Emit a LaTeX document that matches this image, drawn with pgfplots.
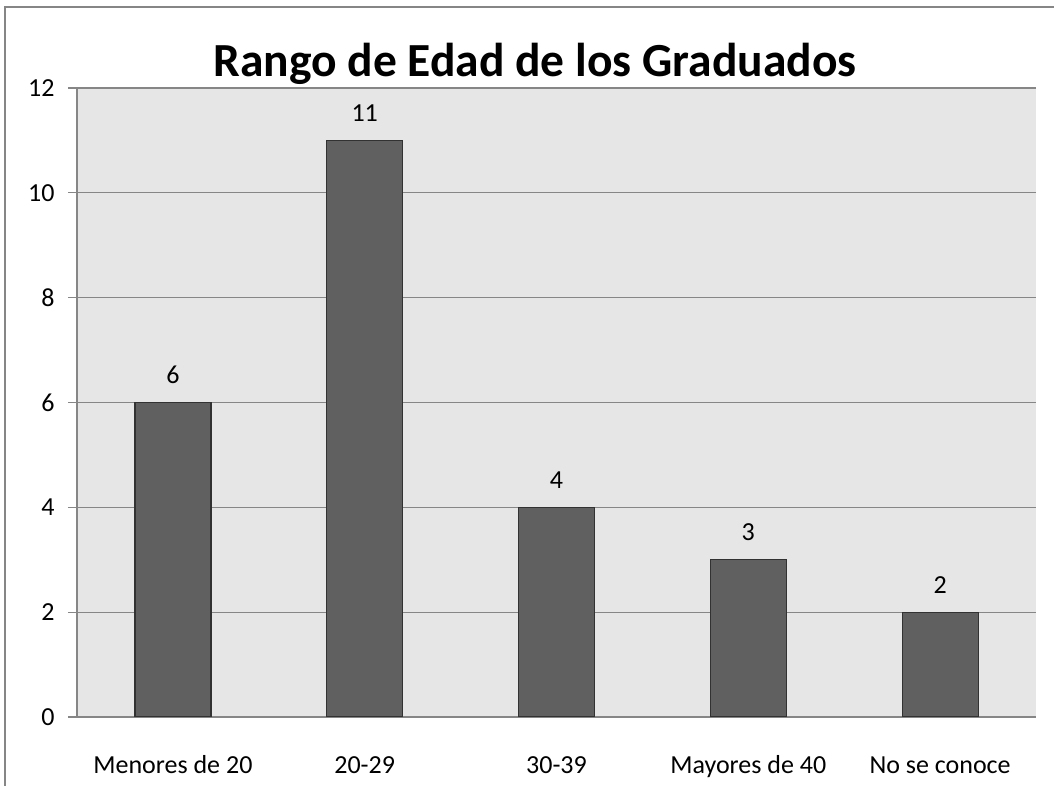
\documentclass[border=0pt]{standalone}
\usepackage{fontspec}
\setmainfont{Carlito}
\usepackage{pgfplots}
\pgfplotsset{compat=1.18}
\definecolor{bgc}{RGB}{230,230,230}
\definecolor{barc}{RGB}{96,96,96}
\definecolor{barl}{RGB}{50,50,50}
\definecolor{gridc}{RGB}{134,134,134}
\begin{document}
\begin{tikzpicture}[x=1pt,y=1pt]
\useasboundingbox (0,0) rectangle (1054,786);
\begin{scope}
\clip (0,0) rectangle (1054,786);
\draw[color=gridc, line width=1.5pt] (5,779) rectangle (1070,-20);
\end{scope}
\begin{axis}[at={(77pt,69pt)}, anchor=south west, scale only axis,
  width=959pt, height=629pt,
  xmin=-0.5, xmax=4.5, ymin=0, ymax=12,
  ytick={0,2,4,6,8,10,12},
  xtick=data,
  xticklabels={Menores de 20,20-29,30-39,Mayores de 40,No se conoce},
  axis background/.style={fill=bgc},
  ymajorgrids, grid style={gridc, line width=1.2pt},
  axis x line*=bottom, axis y line*=left,
  axis line style={gridc, line width=1.2pt, -},
  x tick style={draw=none},
  y tick style={gridc, line width=1.2pt},
  ytick pos=left, tick align=outside, major tick length=9pt,
  ticklabel style={font=\fontsize{26}{30}\selectfont},
  /pgf/number format/assume math mode=true,
  xticklabel style={anchor=base, yshift=-48pt},
  yticklabel style={xshift=-10pt},
  ybar, bar width=76pt,
  nodes near coords,
  nodes near coords style={font=\fontsize{26}{30}\selectfont, yshift=15pt, black},
]
\addplot[fill=barc, draw=barl, line width=1.2pt] coordinates {(0,6) (1,11) (2,4) (3,3) (4,2)};
\end{axis}
\node[font=\fontsize{47.5}{52}\selectfont\bfseries, anchor=base] at (535,709) {Rango de Edad de los Graduados};
\end{tikzpicture}
\end{document}
